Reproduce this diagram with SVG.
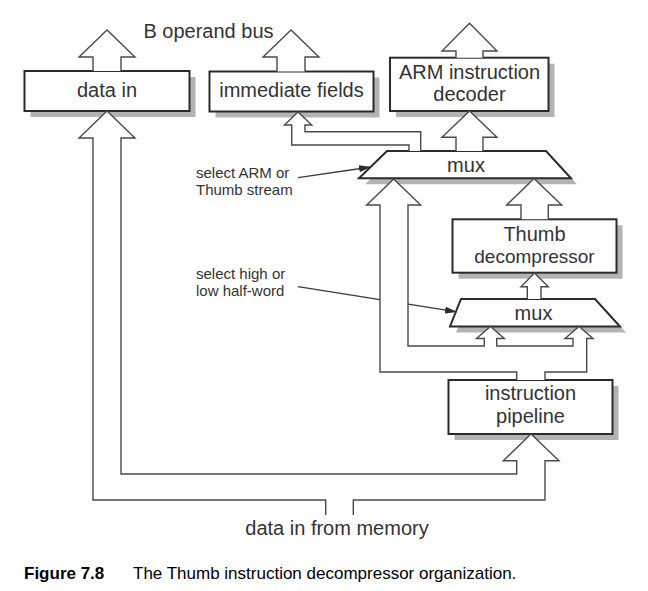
<svg xmlns="http://www.w3.org/2000/svg" width="648" height="591" viewBox="0 0 648 591">
<style>
.bg{fill:#fff}
.box{fill:#fff;stroke:#2b2b2b;stroke-width:2}
.shadow{fill:#b3b3b3}
.conn{fill:#fff;stroke:#4a4a4a;stroke-width:1.4;stroke-linejoin:miter}
.sel{fill:none;stroke:#3a3a3a;stroke-width:1.3}
.lbl{font-family:"Liberation Sans",Arial,Helvetica,sans-serif;font-size:20px;fill:#333;text-anchor:middle}
.note{font-family:"Liberation Sans",Arial,Helvetica,sans-serif;font-size:15px;fill:#333}
.cap{font-family:"Liberation Sans",Arial,Helvetica,sans-serif;font-size:17px;fill:#000}
</style>
<defs>
<marker id="ah" viewBox="0 0 12 7" refX="12" refY="3.5" markerWidth="12" markerHeight="7" markerUnits="userSpaceOnUse" orient="auto">
<path d="M0,0 L12,3.5 L0,7 z" fill="#2b2b2b"/>
</marker>
</defs>
<rect class="bg" x="0" y="0" width="648" height="591"/>

<text class="lbl" x="208.5" y="38">B operand bus</text>

<g id="data-in">
<rect class="shadow" x="30.5" y="77" width="165" height="40"/>
<rect class="box" x="24.5" y="71" width="165" height="40"/>
<text class="lbl" x="107" y="97">data in</text>
</g>

<g id="immediate-fields">
<rect class="shadow" x="215.5" y="77.5" width="164" height="40"/>
<rect class="box" x="209.5" y="71.5" width="164" height="40"/>
<text class="lbl" x="291.5" y="97">immediate fields</text>
</g>

<g id="arm-decoder">
<rect class="shadow" x="396" y="63.7" width="158.5" height="53.3"/>
<rect class="box" x="390" y="57.7" width="158.5" height="53.3"/>
<text class="lbl" x="469.5" y="79">ARM instruction</text>
<text class="lbl" x="469.5" y="101.4">decoder</text>
</g>

<g id="mux-top">
<polygon class="shadow" points="393,157 552,157 577,184.3 365,184.3"/>
<polygon class="box" points="387,151 546,151 571,178.3 359,178.3"/>
<text class="lbl" x="466" y="172">mux</text>
</g>

<g id="thumb-decompressor">
<rect class="shadow" x="458.5" y="225.3" width="164" height="53.4"/>
<rect class="box" x="452.5" y="219.3" width="164" height="53.4"/>
<text class="lbl" x="534.5" y="240.5">Thumb</text>
<text class="lbl" x="534.5" y="262.9" style="font-size:19px">decompressor</text>
</g>

<g id="mux-low">
<polygon class="shadow" points="467,305 601,305 626,332.5 456,332.5"/>
<polygon class="box" points="461,299 595,299 620,326.5 450,326.5"/>
<text class="lbl" x="533.5" y="319.5">mux</text>
</g>

<g id="instruction-pipeline">
<rect class="shadow" x="454.5" y="386" width="164" height="54"/>
<rect class="box" x="448.5" y="380" width="164" height="54"/>
<text class="lbl" x="530.5" y="400.2">instruction</text>
<text class="lbl" x="530.5" y="422.6">pipeline</text>
</g>

<g id="connectors">
<line class="sel" x1="298" y1="177.7" x2="371" y2="167" marker-end="url(#ah)"/>
<line class="sel" x1="298" y1="286.7" x2="457" y2="311.9" marker-end="url(#ah)"/>
<path class="conn" d="M93,71 V57 H79 L107,30 L135,57 H121 V71"/>
<path class="conn" d="M277,71.5 V57 H263 L291,30 L319,57 H305 V71.5"/>
<path class="conn" d="M456,57.7 V51 H442 L469.5,23.3 L497,51 H483 V57.7"/>
<path class="conn" d="M409,151 V145 H291.7 V125 H284.5 L298,112 L311.7,125 H305 V131.7 H420.7 V151"/>
<path class="conn" d="M456,151 V137.3 H442 L469.5,111 L497,137.3 H483 V151"/>
<path class="conn" d="M521,219.3 V205 H506.7 L534,178.5 L561.7,205 H548.3 V219.3"/>
<path class="conn" d="M527.3,299 V286.7 H521 L534.5,273 L548.3,286.7 H541 V299"/>
<path class="conn" d="M516.7,380 V372 H380 V205 H366.7 L393.7,179 L420.7,205 H408 V346 H484.3 V338.5 H476.5 L490.5,326.5 L504.3,338.5 H496.7 V346 H573 V338.5 H565 L579,326.5 L593,338.5 H586.7 V372 H545 V380"/>
<path class="conn" d="M325.7,515 V500 H93 V138 H79 L107,111 L135,138 H121 V474 H516.7 V460.7 H503.3 L531,434 L559,460.7 H545 V500 H353.3 V515"/>
</g>

<text class="note" x="196" y="177.8">select ARM or</text>
<text class="note" x="196" y="194.6">Thumb stream</text>
<text class="note" x="196" y="278.9">select high or</text>
<text class="note" x="196" y="295.7">low half-word</text>

<text class="lbl" x="337" y="535">data in from memory</text>

<text class="cap" x="24" y="579"><tspan font-weight="bold">Figure 7.8</tspan><tspan x="133">The Thumb instruction decompressor organization.</tspan></text>
</svg>
